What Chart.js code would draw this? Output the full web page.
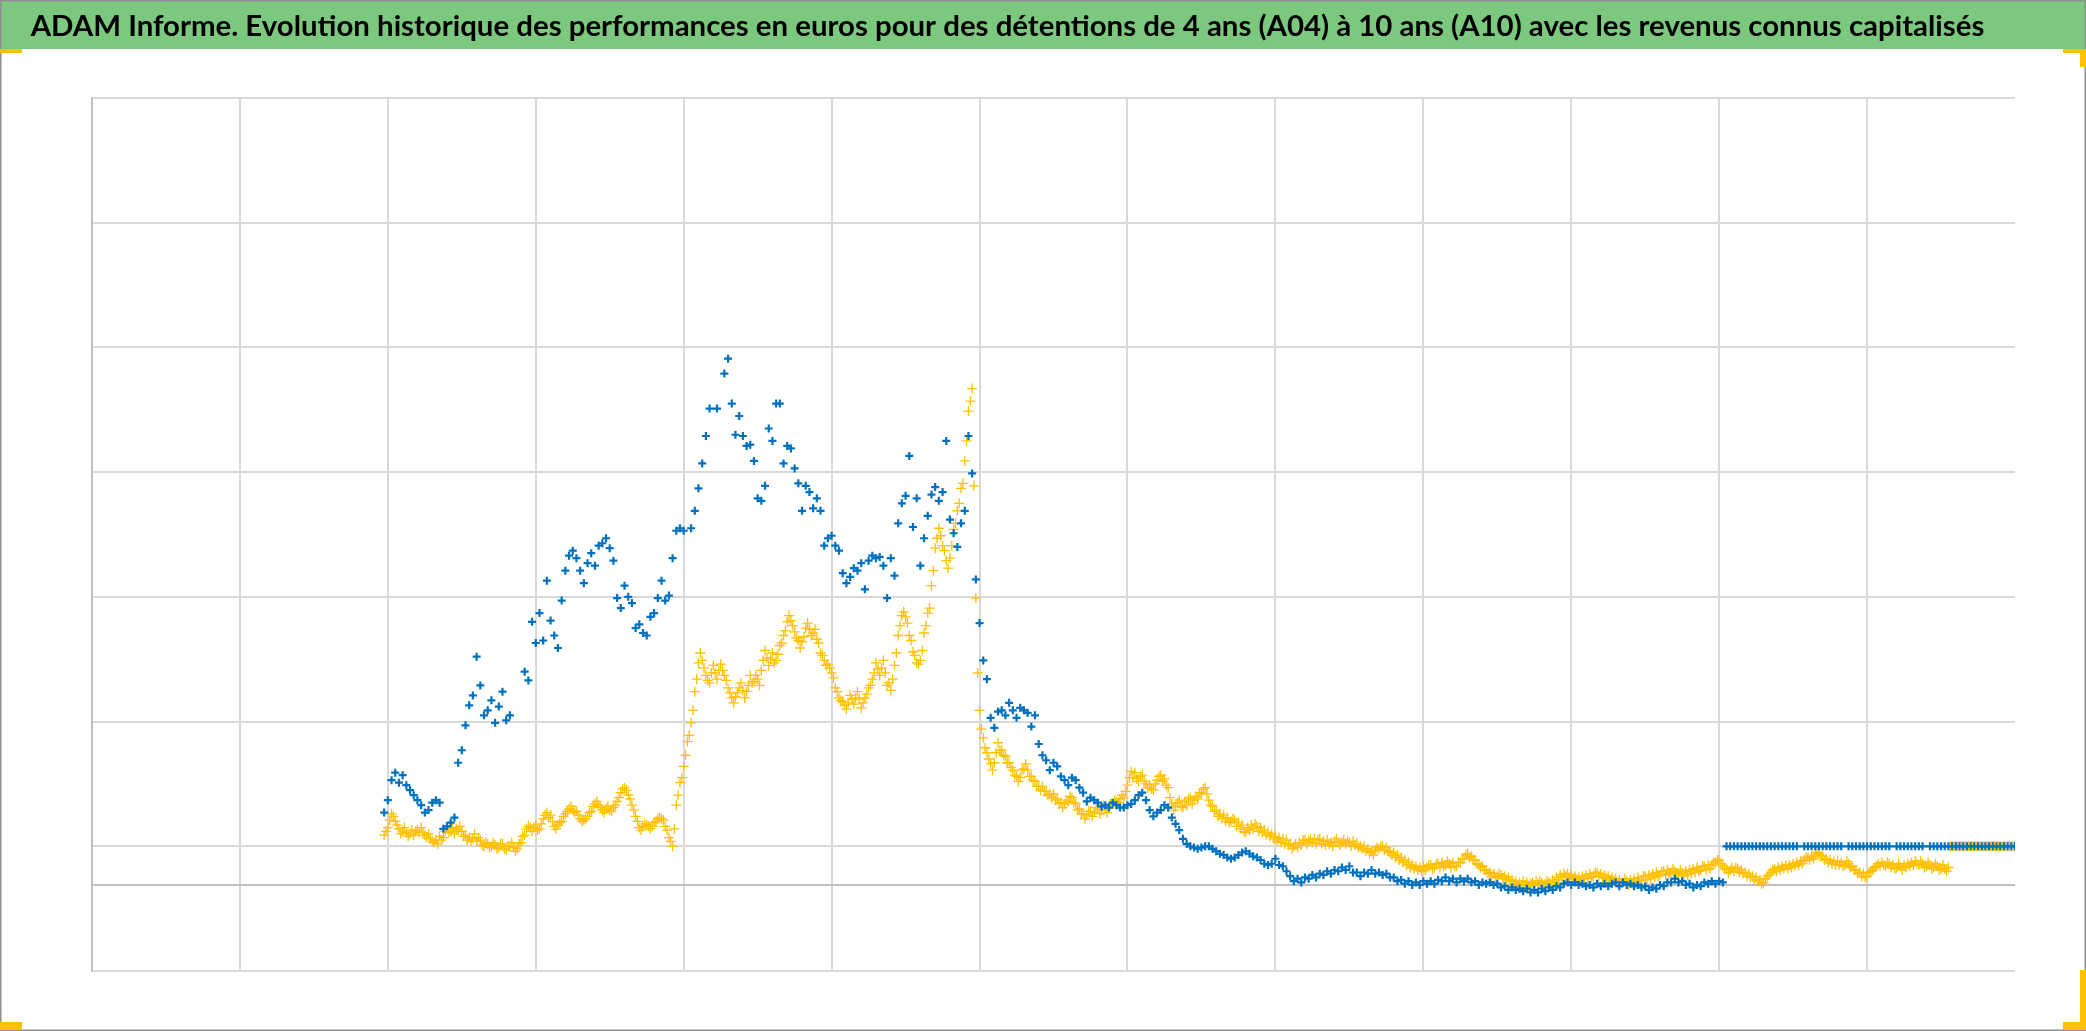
<!DOCTYPE html>
<html>
<head>
<meta charset="utf-8">
<script src="https://cdn.jsdelivr.net/npm/chart.js@4/dist/chart.umd.min.js"></script>
<style>
  body { margin: 0; background: #fff; }
</style>
</head>
<body>
<canvas id="perf-chart" width="2086" height="1031"></canvas>
<script>
// periods on the horizontal axis : first reading and spacing between two readings
const firstPeriod = 1.975
const a04Step = 0.025
const a10Step = 0.0125

// A04 (blue), one value per reading, null = no reading
const a04 = [
  58,68,84,90,82,88,80,76,72,68, 64,58,60,66,68,66,45,47,50,54, 98,108,128,144,152,183,160,136,140,148, 130,143,155,132,136,null,null,null,171,164,
  211,194,218,196,244,212,200,190,228,252, 264,268,262,252,242,258,266,256,272,274, 278,270,260,230,222,240,231,226,206,209, 202,200,215,218,230,244,228,232,262,284,
  286,284,null,286,300,318,338,360,382,null, 382,null,410,422,386,361,376,360,352,353, 340,310,308,320,366,356,386,386,338,352, 350,334,322,300,320,315,302,310,300,272,
  278,280,272,268,250,242,247,254,252,258, 237,260,264,262,263,256,230,262,248,290, 306,312,344,287,310,256,278,296,313,319, 308,315,356,293,282,271,290,300,360,330,
  245,210,180,165,134,126,139,140,136,146, 140,134,142,140,138,127,136,113,104,100, 92,98,95,87,84,80,86,84,78,74, 67,70,68,66,63,64,62,66,64,62,
  62,64,65,68,72,74,68,60,55,58, 60,64,62,54,49,44,37,33,31,30, 29,30,31,31,29,27,25,24,22,21, 22,24,26,27,25,23,22,20,17,16,
  17,21,16,15,11,7,3,5,2,6, 5,8,6,9,8,11,9,12,11,14, 12,15,10,10,7,10,9,12,9,10, 8,9,6,6,3,4,1,3,0,2,
  0,3,1,3,1,4,3,6,3,5, 2,5,3,5,2,3,0,2,1,2, 0,1,-2,-1,-4,-2,-4,-3,-5,-3, -6,-4,-6,-3,-5,-2,-4,-1,-2,1,
  2,0,2,0,1,-1,0,-2,1,-1, 1,-1,1,2,-1,2,0,1,-1,0, -2,-1,-4,-2,-3,0,-1,2,2,5, 2,3,0,1,-2,0,-1,2,1,3,
  1,3,2,
  31,31,31,31,31,31,31,31,31,31, 31,31,31,31,31,31,31,31,31,31, null,
  31,31,31,31,31,31,31,31,31,31, 31, null,
  31,31,31,31,31,31,31,31,31,31, 31,31, null,
  31,31,31,31,31,31,31,31, null,
  31,31,31,31,31,31,31,31,31,31, 31,31,31,31,31,31,31,31,31,31, 31,31,31,31
]

// A10 (yellow), readings twice as close
const a10 = [
  40,43,46,52,57,55,51,48,45,41, 43,46,42,39,41,44,40,43,44,42, 46,42,40,38,41,37,35,34,36,33, 39,36,38,43,45,42,43,46,41,45,
  44,47,43,39,40,36,38,35,37,41, 35,38,36,32,31,34,33,30,31,34, 32,29,30,33,33,29,28,31,31,34, 30,27,29,33,34,39,40,45,47,46,
  43,46,48,44,45,49,53,56,58,54, 56,51,47,45,48,50,51,55,57,59, 61,63,60,58,59,56,53,51,52,53, 55,58,59,63,65,67,64,62,60,58,
  61,63,60,59,62,64,67,70,74,77, 78,76,72,69,64,60,55,51,46,44, 47,49,48,47,45,47,50,51,53,54, 53,52,47,44,38,35,31,45,64,72,
  82,86,95,104,115,120,130,140,155,165, 178,186,180,174,168,164,162,170,176,170, 165,172,177,172,168,164,158,154,150,146, 151,154,158,162,156,150,155,160,168,162,
  163,168,165,160,172,180,188,182,176,181, 186,178,180,185,192,194,200,204,211,216, 212,208,203,198,196,190,195,199,206,210, 205,200,202,205,197,194,186,184,180,176,
  177,174,170,166,158,155,150,148,147,144, 141,146,152,149,145,150,155,149,142,146, 150,153,158,160,165,170,178,173,168,174, 180,170,160,162,156,165,176,186,200,208,
  216,219,215,210,200,196,187,184,178,177, 180,188,202,208,218,222,240,252,270,278, 286,280,272,268,260,254,262,272,285,290, 300,306,318,322,340,356,380,388,398,320,
  230,170,140,125,118,110,106,101,97,92, 98,106,114,108,108,104,103,98,98,94, 92,88,87,83,86,92,93,97,92,87, 87,84,83,79,79,76,79,75,75,72,
  73,70,73,68,69,65,66,62,65,68, 67,71,70,66,65,60,61,57,57,53, 56,59,59,55,58,62,62,57,60,64, 61,58,62,65,65,68,67,66,69,72,
  70,75,80,86,91,86,90,85,83,87, 88,83,81,78,80,77,76,81,84,87, 88,83,85,80,78,70,65,60,63,66, 68,63,62,67,64,69,70,65,68,71,
  69,74,73,77,78,73,68,64,63,59, 60,55,57,53,56,51,54,50,51,53, 52,47,50,45,48,43,42,46,44,48, 45,49,47,43,46,42,44,40,42,39,
  41,37,39,35,38,34,37,33,36,32, 33,29,31,33,30,34,32,36,36,33, 35,37,34,37,33,36,37,33,35,32, 36,33,34,31,35,37,34,32,34,36,
  33,35,34,31,35,32,33,30,31,29, 31,27,29,26,27,24,28,30,29,31, 31,28,30,27,26,24,26,22,24,20, 22,18,20,16,18,14,16,13,15,12,
  14,11,15,12,14,16,16,13,14,17, 17,14,18,15,16,19,17,14,18,15, 15,18,18,21,21,24,25,22,23,20, 20,17,16,14,15,12,12,9,10,7,
  9,6,7,9,8,5,7,4,6,3, 4,1,3,0,2,0,3,0,2,-1, 1,2,0,3,1,3,2,-1,1,3, 2,0,4,2,6,4,8,6,9,7,
  9,6,8,5,7,4,6,3,7,5, 8,5,9,6,7,10,10,7,9,6, 8,5,7,4,6,3,5,2,4,1, 2,5,3,0,4,1,5,2,6,3,
  4,7,7,4,8,5,9,6,10,7, 8,11,11,8,12,9,10,13,11,8, 9,12,10,7,11,8,12,9,13,10, 14,11,12,15,15,12,16,13,16,18,
  18,20,20,17,15,13,13,10,12,14, 11,14,13,10,12,9,10,7,9,6, 7,4,6,3,4,1,2,5,7,8, 10,12,13,11,14,12,15,13,16,13,
  16,14,17,15,18,16,19,17,20,22, 22,20,23,21,24,26,25,23,23,20, 21,18,20,17,19,16,19,16,18,15, 16,19,17,14,15,12,12,9,10,7,
  9,6,7,10,11,12,14,15,17,15, 18,16,15,18,17,14,16,13,14,17, 15,12,16,14,17,15,18,16,19,17, 16,19,17,14,15,18,16,13,14,17,
  15,12,13,16,13,11,14,
  31,31,31,31,31,31,31,31,31,31, 31,31,31,31,31,31,31,31,31,31, 31,31,31,31,31,31,31,31,31,31, 31,31,31,31,31,31
]

// axis : horizontal gridlines and the zero line
const yTicks = [-69, 0, 31, 131, 231, 331, 431, 531, 631]

const titleText = 'ADAM Informe. Evolution historique des performances en euros pour des détentions de 4 ans (A04) à 10 ans (A10) avec les revenus connus capitalisés'
const titleFamily = "Lato, 'Open Sans', sans-serif"

function toPoints(vals, step) {
  return vals.map((v, i) => ({x: firstPeriod + i * step, y: v})).filter(p => p.y !== null)
}

// title size so that the text fills the banner like the original
const mctx = document.createElement('canvas').getContext('2d')
mctx.font = 'bold 100px ' + titleFamily
const titleSize = Math.round(100 * 1953 / mctx.measureText(titleText).width * 10) / 10
const titleLine = titleSize * 1.2
const titleTop = 27 - titleLine / 2

const frame = {
  id: 'frame',
  beforeDraw(chart) {
    const c = chart.ctx
    c.save()
    c.fillStyle = '#fff'
    c.fillRect(0, 0, chart.width, chart.height)
    c.fillStyle = '#7dc87f'
    c.fillRect(1, 1, chart.width - 2, 48)
    c.restore()
  },
  afterDraw(chart) {
    const c = chart.ctx
    const w = chart.width, h = chart.height
    c.save()
    c.strokeStyle = '#8f8f8f'
    c.lineWidth = 1.5
    c.strokeRect(0.75, 0.75, w - 1.5, h - 1.5)
    c.fillStyle = '#ffc000'
    c.fillRect(0, 49, 22, 4)
    c.fillRect(w - 23, 49, 23, 4)
    c.fillRect(w - 6, 49, 6, 18)
    c.fillRect(0, h - 9, 22, 8)
    c.fillRect(w - 23, h - 9, 23, 8)
    c.fillRect(w - 6, h - 61, 6, 60)
    c.restore()
  }
}

new Chart(document.getElementById('perf-chart'), {
  type: 'scatter',
  data: {
    datasets: [
      {
        label: 'A04',
        data: toPoints(a04, a04Step),
        pointStyle: 'cross',
        pointRadius: 4,
        pointBorderWidth: 2.2,
        borderColor: '#0070c0',
        backgroundColor: '#0070c0'
      },
      {
        label: 'A10',
        data: toPoints(a10, a10Step),
        pointStyle: 'cross',
        pointRadius: 5,
        pointBorderWidth: 1.3,
        borderColor: '#ffc000',
        backgroundColor: '#ffc000'
      }
    ]
  },
  options: {
    responsive: false,
    animation: false,
    events: [],
    layout: {padding: {left: 0, right: 71, top: 0, bottom: 0}},
    plugins: {
      legend: {display: false},
      tooltip: {enabled: false},
      title: {
        display: true,
        text: titleText,
        color: '#000',
        font: {family: titleFamily, size: titleSize, weight: 'bold', lineHeight: 1.2},
        padding: {top: titleTop, bottom: 98 - titleTop - titleLine}
      }
    },
    scales: {
      x: {
        type: 'linear',
        min: 0,
        max: 13,
        ticks: {display: false, stepSize: 1},
        border: {display: false},
        grid: {
          drawTicks: false,
          lineWidth: 2,
          color: ctx => ctx.tick && ctx.tick.value === 13 ? 'rgba(0,0,0,0)' : '#d9d9d9'
        },
        afterFit: s => { s.height = 60 }
      },
      y: {
        min: -69,
        max: 631,
        ticks: {display: false},
        afterBuildTicks: s => { s.ticks = yTicks.map(v => ({value: v})) },
        border: {display: true, color: '#bfbfbf', width: 2},
        grid: {
          drawTicks: false,
          lineWidth: 2,
          color: ctx => ctx.tick && ctx.tick.value === 0 ? '#bfbfbf' : '#d9d9d9'
        },
        afterFit: s => { s.width = 92 }
      }
    }
  },
  plugins: [frame]
})
</script>
</body>
</html>
